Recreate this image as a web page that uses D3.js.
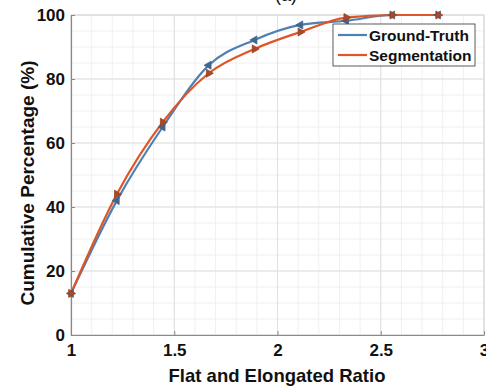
<!DOCTYPE html>
<html>
<head>
<meta charset="utf-8">
<script src="https://cdn.jsdelivr.net/npm/d3@7"></script>
<style>
  body { margin: 0; background: #fff; }
  text { font-family: "Liberation Sans", Arial, sans-serif; font-weight: bold; fill: #111; }
</style>
</head>
<body>
<script>
// Ratio values where markers sit
var ratios = [1, 1.222, 1.444, 1.667, 1.889, 2.111, 2.333, 2.556, 2.778];
// Cumulative percentages
var groundTruth = [13, 42, 65, 84.3, 92.2, 96.9, 98.2, 100, 100];
var segmentation = [13, 44, 66.5, 81.8, 89.4, 94.7, 99.2, 100, 100];
var seriesNames = ["Ground-Truth", "Segmentation"];
var seriesColors = ["#4f80b4", "#de5526"];
var xTicks = [1, 1.5, 2, 2.5, 3];
var yTicks = [0, 20, 40, 60, 80, 100];

var width = 486, height = 387;
var plotLeft = 71, plotRight = 484, plotTop = 15, plotBottom = 335;

var svg = d3.select("body").append("svg").attr("width", width).attr("height", height);

var x = d3.scaleLinear().domain([1, 3]).range([plotLeft, plotRight]);
var y = d3.scaleLinear().domain([0, 100]).range([plotBottom, plotTop]);

// minor grid
var minorX = d3.range(1, 3.0001, 0.1);
var minorY = d3.range(0, 100.001, 5);
svg.append("g").selectAll("line").data(minorX).join("line")
    .attr("x1", d => x(d)).attr("x2", d => x(d)).attr("y1", plotTop).attr("y2", plotBottom)
    .style("stroke", "#f0f0f0").style("stroke-width", 1);
svg.append("g").selectAll("line").data(minorY).join("line")
    .attr("y1", d => y(d)).attr("y2", d => y(d)).attr("x1", plotLeft).attr("x2", plotRight)
    .style("stroke", "#f0f0f0").style("stroke-width", 1);
// major grid
svg.append("g").selectAll("line").data(xTicks).join("line")
    .attr("x1", d => x(d)).attr("x2", d => x(d)).attr("y1", plotTop).attr("y2", plotBottom)
    .style("stroke", "#e0e0e0").style("stroke-width", 1);
svg.append("g").selectAll("line").data(yTicks).join("line")
    .attr("y1", d => y(d)).attr("y2", d => y(d)).attr("x1", plotLeft).attr("x2", plotRight)
    .style("stroke", "#e0e0e0").style("stroke-width", 1);

// box
svg.append("rect").attr("x", plotLeft).attr("y", plotTop)
    .attr("width", plotRight - plotLeft).attr("height", plotBottom - plotTop)
    .style("fill", "none").style("stroke", "#d8d8d8");

// axes
var xAxis = svg.append("g").attr("transform", "translate(0," + plotBottom + ")")
    .call(d3.axisBottom(x).tickValues(xTicks).tickSizeInner(-4).tickSizeOuter(0).tickPadding(7)
        .tickFormat(d3.format("")));
var yAxis = svg.append("g").attr("transform", "translate(" + plotLeft + ",0)")
    .call(d3.axisLeft(y).tickValues(yTicks).tickSizeInner(-4).tickSizeOuter(0).tickPadding(6));
[xAxis, yAxis].forEach(function(a){
    a.select(".domain").style("stroke", "#8a8a8a").style("stroke-width", 1.2);
    a.selectAll(".tick line").style("stroke", "#8a8a8a");
    a.selectAll("text").style("font-size", "17px").style("font-family", "Liberation Sans, Arial, sans-serif")
        .style("font-weight", "bold").style("fill", "#111");
});
xAxis.selectAll("text").attr("dy", "0.85em");

// labels
svg.append("text").attr("x", 277).attr("y", 382).attr("text-anchor", "middle")
    .style("font-size", "18.5px").text("Flat and Elongated Ratio");
svg.append("text").attr("transform", "translate(34,183) rotate(-90)")
    .attr("text-anchor", "middle").style("font-size", "19px").text("Cumulative Percentage (%)");
svg.append("text").attr("x", 286).attr("y", 1).attr("text-anchor", "middle")
    .style("font-size", "18px").style("font-weight", "normal").text("(a)");

// lines
var line = d3.line().x(d => x(d[0])).y(d => y(d[1])).curve(d3.curveMonotoneX);
var series = [groundTruth, segmentation];
series.forEach(function(vals, i){
    var pts = ratios.map((r, j) => [r, vals[j]]);
    svg.append("path").datum(pts).attr("d", line)
        .style("fill", "none").style("stroke", seriesColors[i]).style("stroke-width", 2.2);
});

// markers: blue left triangles, orange right triangles
var tri = d3.symbol().type(d3.symbolTriangle).size(28);
series.forEach(function(vals, i){
    svg.append("g").selectAll("path").data(ratios).join("path")
        .attr("d", tri)
        .attr("transform", (d, j) => "translate(" + x(d) + "," + y(vals[j]) + ") rotate(" + (i === 0 ? -90 : 90) + ")")
        .style("fill", i === 0 ? "#3e6690" : "#a84a2a")
        .style("stroke", i === 0 ? "#3e6690" : "#9a4020").style("stroke-width", 0.8);
});

// legend
var lg = svg.append("g");
lg.append("rect").attr("x", 333).attr("y", 24).attr("width", 142).attr("height", 42)
    .style("fill", "#fff").style("stroke", "#333").style("stroke-width", 0.8);
seriesNames.forEach(function(n, i){
    var yy = 35 + i * 20;
    lg.append("line").attr("x1", 338).attr("x2", 367).attr("y1", yy).attr("y2", yy)
        .style("stroke", seriesColors[i]).style("stroke-width", 2.2);
    lg.append("text").attr("x", 369).attr("y", yy + 6).style("font-size", "15.5px").text(n);
});
</script>
</body>
</html>
